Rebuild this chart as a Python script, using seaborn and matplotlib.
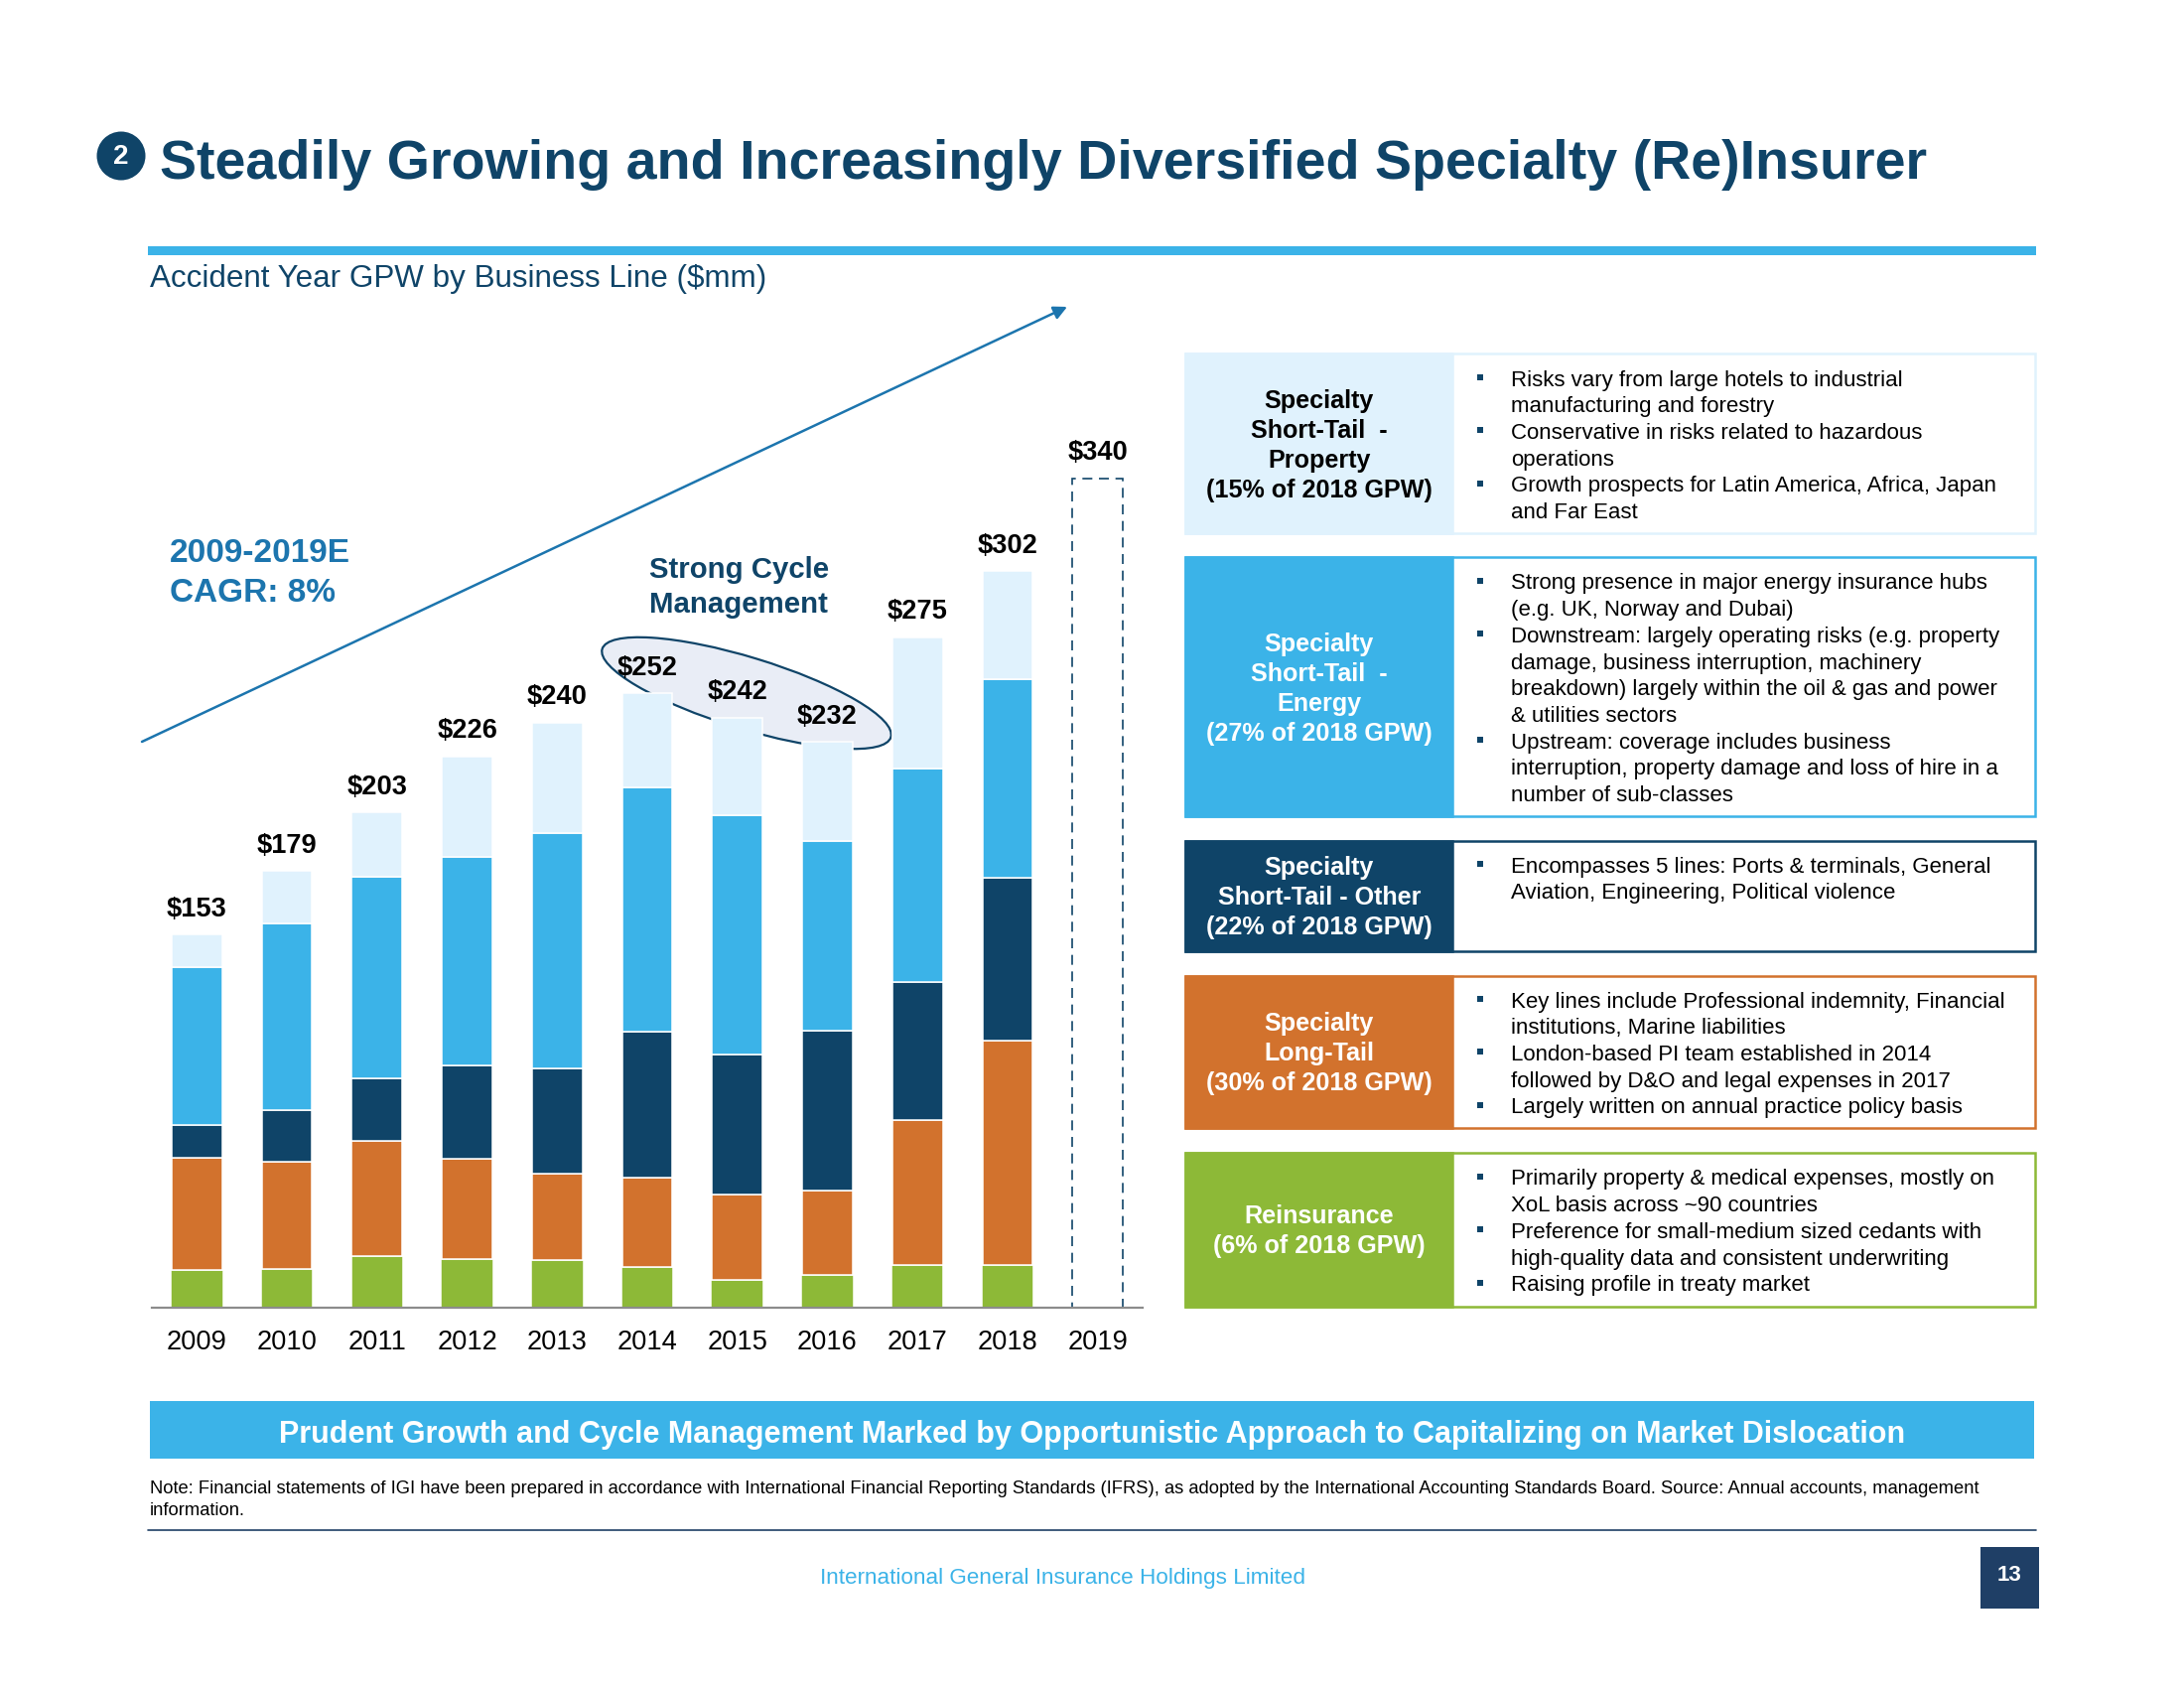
import numpy as np
import matplotlib
matplotlib.use("Agg")
import matplotlib.pyplot as plt
from matplotlib.patches import Rectangle, Ellipse, Circle
import seaborn as sns

years = ["2009","2010","2011","2012","2013","2014","2015","2016","2017","2018","2019"]
totals = [153,179,203,226,240,252,242,232,275,302,340]
reinsurance = [15.5,15.8,21.0,20.1,19.5,16.6,11.4,13.3,17.7,17.7]
long_tail = [46.0,44.2,47.4,40.9,35.5,36.8,35.1,34.9,59.2,92.0]
other = [13.5,21.2,25.6,38.4,43.0,59.6,57.5,65.6,56.7,66.5]
energy = [64.5,76.4,82.7,85.5,96.5,100.5,98.0,77.4,87.5,81.4]
prop = [13.5,21.4,26.3,41.1,45.5,38.5,40.0,40.8,53.9,44.4]

LIGHT, BLUE, NAVY, ORANGE, GREEN = "#E0F2FD", "#3BB3E8", "#0F4468", "#D2722D", "#8DB937"
ARROW = "#1C75AE"

title = "Steadily Growing and Increasingly Diversified Specialty (Re)Insurer"
subtitle = "Accident Year GPW by Business Line ($mm)"
banner = "Prudent Growth and Cycle Management Marked by Opportunistic Approach to Capitalizing on Market Dislocation"
note = ["Note: Financial statements of IGI have been prepared in accordance with International Financial Reporting Standards (IFRS), as adopted by the International Accounting Standards Board. Source: Annual accounts, management",
        "information."]
footer = "International General Insurance Holdings Limited"

panel_labels = [
    ["Specialty", "Short-Tail  -", "Property", "(15% of 2018 GPW)"],
    ["Specialty", "Short-Tail  -", "Energy", "(27% of 2018 GPW)"],
    ["Specialty", "Short-Tail - Other", "(22% of 2018 GPW)"],
    ["Specialty", "Long-Tail", "(30% of 2018 GPW)"],
    ["Reinsurance", "(6% of 2018 GPW)"],
]
panel_text = [
    [(1,"Risks vary from large hotels to industrial"),(0,"manufacturing and forestry"),
     (1,"Conservative in risks related to hazardous"),(0,"operations"),
     (1,"Growth prospects for Latin America, Africa, Japan"),(0,"and Far East")],
    [(1,"Strong presence in major energy insurance hubs"),(0,"(e.g. UK, Norway and Dubai)"),
     (1,"Downstream: largely operating risks (e.g. property"),(0,"damage, business interruption, machinery"),
     (0,"breakdown) largely within the oil & gas and power"),(0,"& utilities sectors"),
     (1,"Upstream: coverage includes business"),(0,"interruption, property damage and loss of hire in a"),
     (0,"number of sub-classes")],
    [(1,"Encompasses 5 lines: Ports & terminals, General"),(0,"Aviation, Engineering, Political violence")],
    [(1,"Key lines include Professional indemnity, Financial"),(0,"institutions, Marine liabilities"),
     (1,"London-based PI team established in 2014"),(0,"followed by D&O and legal expenses in 2017"),
     (1,"Largely written on annual practice policy basis")],
    [(1,"Primarily property & medical expenses, mostly on"),(0,"XoL basis across ~90 countries"),
     (1,"Preference for small-medium sized cedants with"),(0,"high-quality data and consistent underwriting"),
     (1,"Raising profile in treaty market")],
]
panel_colors = [LIGHT, BLUE, NAVY, ORANGE, GREEN]
panel_label_colors = ["black", "white", "white", "white", "white"]
panel_y = [(356,537),(561,822),(847,958),(983,1136),(1161,1316)]
label_first_y = [404,649,874,1031,1225]
text_first_y = [383,588,873,1009,1188]

sns.set_theme(style="white")
plt.rcParams["font.family"] = ["Liberation Sans", "DejaVu Sans"]

W, H = 2200, 1700
fig = plt.figure(figsize=(11, 8.5), dpi=200, facecolor="white")

# slide furniture in pixel coordinates
bg = fig.add_axes([0, 0, 1, 1], zorder=0)
bg.set_xlim(0, W); bg.set_ylim(H, 0); bg.axis("off")

bg.add_patch(Circle((122, 157), 24.5, fc=NAVY, ec="none"))
bg.text(122, 158, "2", color="white", fontsize=10, fontweight="bold", ha="center", va="center")
bg.text(161, 166, title, color=NAVY, fontsize=20.03, fontweight="bold", ha="left", va="center")
bg.add_patch(Rectangle((149, 248), 1902, 9, fc=BLUE, ec="none"))
bg.text(151, 281, subtitle, color=NAVY, fontsize=11.3, ha="left", va="center")

bg.annotate("", xy=(1075, 309), xytext=(143, 747),
            arrowprops=dict(arrowstyle="-|>", color=ARROW, lw=0.9, mutation_scale=10, shrinkA=0, shrinkB=0))
bg.add_patch(Ellipse((752, 698), 304, 72, angle=17, fc="#E9EDF6", ec=NAVY, lw=0.8))
bg.text(171, 557, "2009-2019E", color=ARROW, fontsize=12, fontweight="bold", ha="left", va="center")
bg.text(171, 598, "CAGR: 8%", color=ARROW, fontsize=12, fontweight="bold", ha="left", va="center")
bg.text(654, 574, "Strong Cycle", color=NAVY, fontsize=10.6, fontweight="bold", ha="left", va="center")
bg.text(654, 609, "Management", color=NAVY, fontsize=10.6, fontweight="bold", ha="left", va="center")

for c, lc, (y0, y1), labels, lines, ly, ty in zip(panel_colors, panel_label_colors, panel_y,
                                                  panel_labels, panel_text, label_first_y, text_first_y):
    bg.add_patch(Rectangle((1194, y0), 856, y1 - y0, fc="white", ec=c, lw=0.9))
    bg.add_patch(Rectangle((1194, y0), 269, y1 - y0, fc=c, ec=c, lw=0.9))
    for i, s in enumerate(labels):
        bg.text(1329, ly + i * 30, s, color=lc, fontsize=9.05, fontweight="bold", ha="center", va="center")
    for i, (b, s) in enumerate(lines):
        yy = ty + i * 26.7
        if b:
            bg.scatter([1491], [yy - 3], marker="s", s=3.5, color=NAVY, linewidths=0)
        bg.text(1522, yy, s, color="black", fontsize=8.02, ha="left", va="center")

bg.add_patch(Rectangle((151, 1411), 1898, 58, fc=BLUE, ec="none"))
bg.text(1100, 1445, banner, color="white", fontsize=11, fontweight="bold", ha="center", va="center")
bg.text(151, 1500, note[0], color="black", fontsize=6.61, ha="left", va="center")
bg.text(151, 1522, note[1], color="black", fontsize=6.61, ha="left", va="center")
bg.plot([149, 2051], [1541, 1541], color="#1F3F66", lw=0.6)
bg.text(1071, 1589, footer, color=BLUE, fontsize=8.1, ha="center", va="center")
bg.add_patch(Rectangle((1995, 1558), 59, 62, fc="#1F3F66", ec="none"))
bg.text(2024, 1587, "13", color="white", fontsize=8, fontweight="bold", ha="center", va="center")

# chart
ax = fig.add_axes([153 / W, 1 - 1317 / H, 998 / W, 1031.5 / H], zorder=1)
ax.patch.set_alpha(0)
hist_years = years[:10]
series = [(reinsurance, GREEN, 0.58), (long_tail, ORANGE, 0.56), (other, NAVY, 0.56),
          (energy, BLUE, 0.56), (prop, LIGHT, 0.56)]
bottom = np.zeros(10)
for vals, col, wd in series:
    sns.barplot(x=hist_years, y=vals, order=years, bottom=bottom, color=col, saturation=1,
                width=wd, edgecolor="white", linewidth=0.55, ax=ax)
    bottom = bottom + np.array(vals)
sns.barplot(x=years[-1:], y=totals[-1:], order=years, color=NAVY, saturation=1, fill=False,
            width=0.56, linewidth=0.6, linestyle=(0, (6, 4)), ax=ax)

for i, t in enumerate(totals):
    ax.annotate(f"${t}", (i, t), xytext=(0, 9.2), textcoords="offset points", ha="center",
                va="center", fontsize=9.8, fontweight="bold", color="black")

ax.set_xlim(-0.5, 10.5)
ax.set_ylim(0, 420)
ax.set_xlabel(""); ax.set_ylabel("")
ax.set_yticks([])
ax.tick_params(axis="x", length=0, pad=8, labelsize=9.8, labelcolor="black")
sns.despine(ax=ax, left=True)
ax.spines["bottom"].set_color("#8C8C8C")
ax.spines["bottom"].set_linewidth(0.8)

fig.savefig("out.png", dpi=200)
